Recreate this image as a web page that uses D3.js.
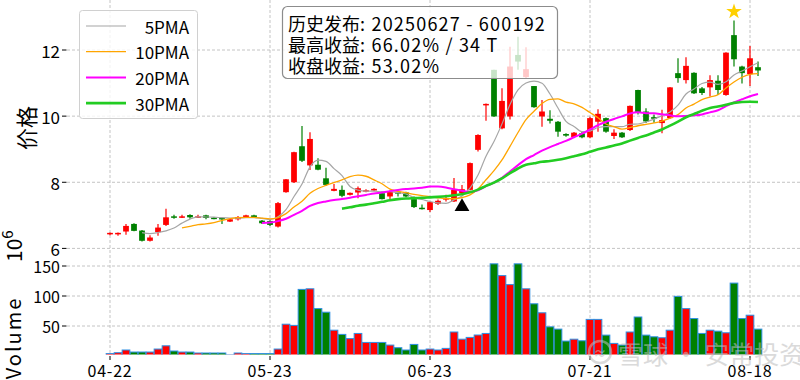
<!DOCTYPE html>
<html>
<head>
<meta charset="utf-8">
<script src="https://cdn.jsdelivr.net/npm/d3@7/dist/d3.min.js"></script>
<style>
  body { margin: 0; padding: 0; background: #fff; }
  svg { display: block; }
</style>
</head>
<body>
<script>
// trading days 2025-04-22 .. 2025-08-19
const dates = [
  "04-22","04-23","04-24","04-25","04-28","04-29","04-30",
  "05-06","05-07","05-08","05-09","05-12","05-13","05-14","05-15","05-16",
  "05-19","05-20","05-21","05-22","05-23","05-26","05-27","05-28","05-29","05-30",
  "06-03","06-04","06-05","06-06","06-09","06-10","06-11","06-12","06-13",
  "06-16","06-17","06-18","06-19","06-20","06-23","06-24","06-25","06-26","06-27",
  "06-30","07-01","07-02","07-03","07-04","07-07","07-08","07-09","07-10","07-11",
  "07-14","07-15","07-16","07-17","07-18","07-21","07-22","07-23","07-24","07-25",
  "07-28","07-29","07-30","07-31","08-01","08-04","08-05","08-06","08-07","08-08",
  "08-11","08-12","08-13","08-14","08-15","08-18","08-19"
]
const open = [
  6.45, 6.44, 6.51, 6.74, 6.54, 6.23, 6.49, 6.71, 6.97, 6.95,
  7.01, 6.95, 7.00, 6.93, 6.92, 6.81, 6.88, 6.93, 7.00, 6.84,
  6.83, 6.66, 7.70, 8.00, 9.09, 8.51, 8.53, 8.12, 7.74, 7.77,
  7.62, 7.69, 7.73, 7.75, 7.67, 7.57, 7.70, 7.69, 7.49, 7.23,
  7.16, 7.35, 7.48, 7.42, 7.67, 7.77, 8.98, 10.33, 11.40, 9.63,
  9.99, 11.85, 11.18, 10.91, 9.99, 9.92, 9.83, 9.46, 9.37, 9.48,
  9.36, 9.83, 9.94, 9.40, 9.50, 9.58, 10.79, 10.14, 9.97, 9.79,
  9.94, 11.30, 11.09, 11.31, 10.84, 10.87, 11.07, 10.64, 12.45, 11.50,
  11.27, 11.48
]
const high = [
  6.48, 6.48, 6.74, 6.76, 6.56, 6.40, 6.74, 7.20, 7.02, 7.02,
  7.03, 7.02, 7.02, 6.95, 6.95, 6.90, 6.98, 7.02, 7.02, 6.86,
  6.85, 7.40, 8.10, 8.92, 9.70, 9.51, 8.73, 8.44, 7.95, 7.90,
  7.69, 7.87, 7.79, 7.82, 7.72, 7.75, 7.75, 7.71, 7.57, 7.33,
  7.41, 7.48, 7.62, 8.13, 7.92, 8.60, 9.45, 10.38, 11.40, 10.84,
  12.10, 12.40, 12.08, 10.91, 10.49, 10.18, 9.85, 9.48, 9.52, 9.53,
  9.98, 10.21, 9.96, 9.60, 9.52, 10.32, 10.80, 10.24, 10.05, 10.19,
  10.88, 11.75, 11.78, 11.33, 10.88, 11.24, 11.24, 11.93, 12.89, 11.52,
  12.12, 11.65
]
const low = [
  6.40, 6.38, 6.41, 6.52, 6.21, 6.21, 6.38, 6.68, 6.90, 6.92,
  6.90, 6.92, 6.88, 6.88, 6.74, 6.80, 6.84, 6.92, 6.92, 6.74,
  6.68, 6.63, 7.68, 7.98, 8.61, 8.37, 8.36, 7.89, 7.73, 7.55,
  7.60, 7.52, 7.70, 7.73, 7.48, 7.48, 7.57, 7.55, 7.22, 7.18,
  7.10, 7.31, 7.42, 7.40, 7.65, 7.75, 8.93, 9.86, 9.98, 9.60,
  9.90, 11.40, 11.15, 10.25, 9.68, 9.78, 9.38, 9.38, 9.35, 9.33,
  9.33, 9.53, 9.50, 9.31, 9.34, 9.55, 10.05, 9.79, 9.80, 9.48,
  9.92, 11.01, 10.99, 10.67, 10.64, 10.59, 10.64, 10.62, 11.50, 10.99,
  10.91, 11.21
]
const close = [
  6.47, 6.47, 6.68, 6.53, 6.23, 6.33, 6.63, 6.94, 6.95, 6.97,
  6.94, 6.97, 6.92, 6.92, 6.89, 6.88, 6.95, 7.00, 6.94, 6.76,
  6.71, 7.37, 8.09, 8.91, 8.65, 9.31, 8.38, 7.92, 7.80, 7.59,
  7.68, 7.82, 7.76, 7.80, 7.49, 7.71, 7.66, 7.57, 7.25, 7.21,
  7.40, 7.44, 7.52, 7.77, 7.79, 8.58, 9.43, 10.37, 9.99, 10.46,
  11.50, 11.65, 11.42, 10.27, 10.14, 9.86, 9.53, 9.41, 9.50, 9.36,
  9.94, 10.07, 9.53, 9.50, 9.36, 10.31, 10.11, 9.84, 9.92, 9.88,
  10.87, 11.15, 11.52, 10.69, 10.70, 11.09, 10.79, 11.92, 11.72, 11.30,
  11.75, 11.38
]
// volume in 10^6
const volume = [
  4, 5.5, 10, 6.6, 6.6, 6.6, 11.6, 17, 8.3, 6.6,
  6.6, 5, 5, 5, 5, 2, 5, 4, 4, 4,
  4, 11.6, 53, 51, 111, 112, 79, 73, 43, 36,
  29, 37.6, 22.6, 22.6, 22.6, 18.2, 13.8, 10, 19.3, 10,
  11.6, 10, 12.7, 40, 28, 31, 35, 37.6, 153.6, 134,
  119, 153.6, 112, 87, 72, 48.6, 44.8, 24.9, 28, 25.4,
  61, 61, 34.8, 21, 18.2, 40, 65, 34.8, 32, 30.4,
  43, 99.4, 79, 62.4, 37.6, 43, 41.4, 38.7, 121.5, 62.4,
  68, 44.8
]
const xTickLabels = ["04-22", "05-23", "06-23", "07-21", "08-18"]
const priceTicks = [6, 8, 10, 12]
const volumeTicks = [50, 100, 150]
const maPeriods = [5, 10, 20, 30]
const maNames = ["5PMA", "10PMA", "20PMA", "30PMA"]
const signalDate = "06-27"
const peakDate = "08-14"
const noteHead = ["历史发布", "最高收益", "收盘收益"]
const noteTail = [": 20250627 - 600192", ": 66.02% / 34 T", ": 53.02%"]

const maStyle = [
  { color: "#a6a6a6", width: 1.2 },
  { color: "#ffa500", width: 1.3 },
  { color: "#ff00ff", width: 2 },
  { color: "#22cc22", width: 2.6 }
]
const upColor = "#ff0000"
const downColor = "#008000"
const cjk = "'Noto Sans CJK SC', 'DejaVu Sans', sans-serif"

const width = 800
const height = 380
const left = 67

const svg = d3.select("body").append("svg")
  .attr("width", width)
  .attr("height", height)

const x = d3.scaleLinear().domain([0, 80]).range([110, 750])
const yPrice = d3.scaleLinear().domain([6, 12]).range([248.4, 50])
const yVol = d3.scaleLinear().domain([0, 150]).range([356, 266])
const step = x(1) - x(0)

const defs = svg.append("defs")
defs.append("clipPath").attr("id", "clipPrice")
  .append("rect").attr("x", left).attr("y", 0).attr("width", width - left).attr("height", 251)
defs.append("clipPath").attr("id", "clipVol")
  .append("rect").attr("x", left).attr("y", 253).attr("width", width - left).attr("height", 101.5)

const idx = dates.map((d, i) => i)
const isUp = i => close[i] >= open[i]
const tickIdx = xTickLabels.map(t => dates.indexOf(t))

// grid
const grid = svg.append("g")
  .attr("stroke", "#c4c4c4")
  .attr("stroke-width", 1)
  .attr("stroke-dasharray", "3,2")

grid.selectAll(".hp").data(priceTicks).join("line")
  .attr("x1", left).attr("x2", width)
  .attr("y1", d => yPrice(d)).attr("y2", d => yPrice(d))
grid.selectAll(".hv").data(volumeTicks).join("line")
  .attr("x1", left).attr("x2", width)
  .attr("y1", d => yVol(d)).attr("y2", d => yVol(d))
grid.selectAll(".vx").data(tickIdx).join("line")
  .attr("x1", d => x(d)).attr("x2", d => x(d))
  .attr("y1", 0).attr("y2", 354)

// y ticks
const tickG = svg.append("g").attr("font-family", cjk).attr("fill", "#000")
priceTicks.forEach(t => {
  tickG.append("line").attr("x1", 62).attr("x2", 66.5)
    .attr("y1", yPrice(t)).attr("y2", yPrice(t)).attr("stroke", "#000")
  tickG.append("text").attr("x", 60).attr("y", yPrice(t))
    .attr("text-anchor", "end").attr("dominant-baseline", "central")
    .attr("font-size", 17).text(t)
})
volumeTicks.forEach(t => {
  tickG.append("line").attr("x1", 62).attr("x2", 66.5)
    .attr("y1", yVol(t)).attr("y2", yVol(t)).attr("stroke", "#000")
  tickG.append("text").attr("x", 60).attr("y", yVol(t))
    .attr("text-anchor", "end").attr("dominant-baseline", "central")
    .attr("font-size", 16).text(t)
})
tickIdx.forEach((t, k) => {
  tickG.append("line").attr("x1", x(t)).attr("x2", x(t))
    .attr("y1", 356).attr("y2", 360).attr("stroke", "#000")
  tickG.append("text").attr("x", x(t)).attr("y", 370)
    .attr("text-anchor", "middle").attr("dominant-baseline", "central")
    .attr("font-size", 16).attr("letter-spacing", 0.8).text(xTickLabels[k])
})

// axis titles
svg.append("text")
  .attr("transform", "translate(25,128) rotate(-90)")
  .attr("text-anchor", "middle").attr("dominant-baseline", "central")
  .attr("font-family", cjk).attr("font-size", 22).text("价格")
svg.append("text")
  .attr("transform", "translate(12,338) rotate(-90)")
  .attr("text-anchor", "middle").attr("dominant-baseline", "central")
  .attr("font-family", cjk).attr("font-size", 20).attr("letter-spacing", 2).text("Volume")
const off = svg.append("text")
  .attr("transform", "translate(22,262) rotate(-90)")
  .attr("font-family", cjk).attr("font-size", 21)
off.append("tspan").text("10")
off.append("tspan").attr("dy", -9).attr("font-size", 15).text("6")

// volume bars
svg.append("g").attr("clip-path", "url(#clipVol)")
  .selectAll("rect").data(idx).join("rect")
  .attr("x", i => x(i) - step * 0.48)
  .attr("width", step * 0.96)
  .attr("y", i => yVol(volume[i]))
  .attr("height", i => yVol(0) - yVol(volume[i]))
  .attr("fill", i => isUp(i) ? upColor : downColor)
  .attr("stroke", "#2f8fe3")
  .attr("stroke-width", 1)

// candles
const priceG = svg.append("g").attr("clip-path", "url(#clipPrice)")
const bw = step * 0.72
const candles = priceG.append("g").selectAll("g").data(idx).join("g")
candles.append("line")
  .attr("x1", i => x(i)).attr("x2", i => x(i))
  .attr("y1", i => yPrice(high[i])).attr("y2", i => yPrice(low[i]))
  .attr("stroke", i => isUp(i) ? upColor : downColor)
  .attr("stroke-width", 1.2)
candles.append("rect")
  .attr("x", i => x(i) - bw / 2)
  .attr("width", bw)
  .attr("y", i => yPrice(Math.max(open[i], close[i])))
  .attr("height", i => Math.max(1.5, Math.abs(yPrice(open[i]) - yPrice(close[i]))))
  .attr("fill", i => isUp(i) ? upColor : downColor)

// moving averages of close
const movingAvg = n => close.map((c, i) => i < n - 1 ? null : d3.mean(close.slice(i - n + 1, i + 1)))
const line = d3.line()
  .defined(d => d != null)
  .x((d, i) => x(i))
  .y(d => yPrice(d))
  .curve(d3.curveMonotoneX)
maPeriods.forEach((n, k) => {
  priceG.append("path")
    .datum(movingAvg(n))
    .attr("d", line)
    .attr("fill", "none")
    .attr("stroke", maStyle[k].color)
    .attr("stroke-width", maStyle[k].width)
})

// markers
const si = dates.indexOf(signalDate)
svg.append("path")
  .attr("d", d3.symbol(d3.symbolTriangle).size(95)())
  .attr("transform", `translate(${x(si)},${yPrice(low[si]) + 13})`)
  .attr("fill", "#000")
const pi = dates.indexOf(peakDate)
svg.append("path")
  .attr("d", d3.symbol(d3.symbolStar).size(75)())
  .attr("transform", `translate(${x(pi)},${yPrice(high[pi]) - 9})`)
  .attr("fill", "#ffd000")

// legend
const leg = svg.append("g")
leg.append("rect")
  .attr("x", 79.5).attr("y", 10.5).attr("width", 118).attr("height", 108).attr("rx", 3)
  .attr("fill", "#fff").attr("fill-opacity", 0.8)
  .attr("stroke", "#d0d0d0")
maNames.forEach((name, k) => {
  const yy = 26 + k * 25.7
  leg.append("line").attr("x1", 86).attr("x2", 126).attr("y1", yy).attr("y2", yy)
    .attr("stroke", maStyle[k].color).attr("stroke-width", maStyle[k].width)
  leg.append("text").attr("x", 189).attr("y", yy)
    .attr("text-anchor", "end").attr("dominant-baseline", "central")
    .attr("font-family", cjk).attr("font-size", 17)
    .text(name)
})

// annotation box
const note = svg.append("g")
note.append("rect")
  .attr("x", 282.5).attr("y", 6.5).attr("width", 275).attr("height", 72).attr("rx", 5)
  .attr("fill", "#fff").attr("fill-opacity", 0.78)
  .attr("stroke", "#8c8c8c").attr("stroke-width", 1.2)
noteHead.forEach((h, k) => {
  const t = note.append("text")
    .attr("x", 288).attr("y", 22.5 + k * 21)
    .attr("dominant-baseline", "central")
    .attr("font-family", cjk).attr("fill", "#000")
  t.append("tspan").attr("font-size", 18).text(h)
  t.append("tspan").attr("font-size", 18).attr("letter-spacing", 1.2)
    .attr("xml:space", "preserve").text(noteTail[k])
})

// watermark
const wm = svg.append("g").attr("fill", "#bdbdbd").attr("opacity", 0.55)
wm.append("circle").attr("cx", 600).attr("cy", 352).attr("r", 11)
  .attr("fill", "none").attr("stroke", "#bdbdbd").attr("stroke-width", 2.5)
wm.append("text").attr("x", 600).attr("y", 352)
  .attr("text-anchor", "middle").attr("dominant-baseline", "central")
  .attr("font-family", cjk).attr("font-size", 13).attr("font-weight", "bold").text("≈")
wm.append("text").attr("x", 618).attr("y", 353)
  .attr("dominant-baseline", "central")
  .attr("font-family", cjk).attr("font-size", 25)
  .attr("xml:space", "preserve")
  .text("雪球 · 安常投资")
</script>
</body>
</html>
